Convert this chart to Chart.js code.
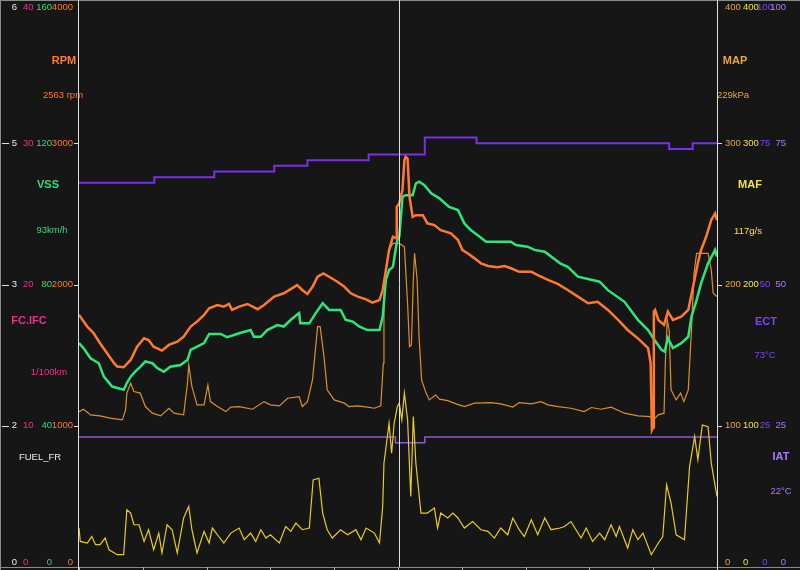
<!DOCTYPE html>
<html>
<head>
<meta charset="utf-8">
<script src="https://cdn.jsdelivr.net/npm/chart.js@4/dist/chart.umd.min.js"></script>
<style>
  html, body { margin: 0; padding: 0; background: #161616; }
  canvas { display: block; }
</style>
</head>
<body>
<canvas id="logChart" width="800" height="570"></canvas>
<script>
// time in seconds (0..100)
const rpm = [[0,1785],[1.3,1702],[2.3,1655],[3.3,1584],[4.4,1513],[5.5,1443],[6,1419],[7,1414],[8.1,1466],[9.1,1560],[10.2,1619],[10.9,1607],[11.7,1560],[13,1532],[14.1,1572],[15.4,1595],[16.4,1631],[17.5,1702],[18.5,1737],[19.6,1784],[20.4,1832],[21.7,1855],[22.7,1843],[23.5,1862],[24,1820],[25.1,1843],[26.4,1862],[28,1825],[29,1855],[30.6,1914],[32.1,1938],[34.2,1996],[35,1961],[35.8,1933],[36.6,1984],[37.4,2055],[38.3,2079],[39.2,2055],[40.5,2020],[41.6,1984],[42.6,1938],[43.7,1914],[45,1895],[46,1871],[47.1,1890],[47.6,1961],[48.1,2102],[48.6,2244],[49.2,2338],[49.7,2327],[49.8,2550],[50.2,2574],[50.7,2668],[51,2880],[51.2,2904],[51.5,2892],[51.8,2621],[52.3,2479],[52.8,2491],[53.9,2491],[54.6,2433],[55.7,2421],[56.7,2385],[58.3,2362],[59.4,2315],[60.1,2244],[60.9,2221],[62,2185],[63,2150],[64.1,2131],[65.6,2122],[66.7,2131],[67.7,2115],[69,2090],[70.9,2090],[71.9,2067],[73.5,2032],[75.1,2003],[76.6,1961],[78.2,1914],[79.8,1867],[81.3,1878],[82.9,1820],[84.5,1749],[86,1678],[87.6,1619],[89.2,1549],[89.6,1443],[89.8,971],[90,990],[90.1,1808],[90.3,1820],[90.8,1749],[91.7,1714],[92.3,1808],[93.1,1749],[94.4,1772],[95.5,1820],[96.2,1973],[97,2150],[97.5,2244],[98.3,2338],[99.1,2456],[99.7,2503],[100,2456]];

const vss = [[0,63.4],[0.7,62],[1.8,59.1],[3.1,57.7],[3.9,53.9],[5.2,51.1],[6.2,50.6],[7,50.2],[7.5,52.1],[8.1,53.9],[8.8,55.3],[9.6,56.7],[10.4,58.2],[11.5,57.7],[12.3,56.3],[13.3,55.3],[14.3,56.7],[15.9,57.2],[17,58.6],[17.5,61.5],[18.5,62.4],[19.6,63.4],[20.4,66],[22.2,66],[23.2,65.1],[24.3,65.7],[25.1,66.2],[26.9,67.1],[27.4,65.2],[28.5,65.2],[29.5,67.1],[31.1,68.5],[32.1,68.1],[33.2,70],[34.5,71.9],[34.7,69],[36.1,69],[37.1,71.9],[38.2,74.7],[39.2,72.8],[41,72.8],[41.8,70],[42.9,69.5],[43.9,68.1],[45.2,67.1],[47.1,67.1],[47.6,70.9],[48.1,81.3],[48.6,84.1],[49.2,85],[49.7,90.7],[49.9,92.6],[50.2,93.5],[50.7,104.8],[51.2,105.3],[52.3,105.3],[52.8,108.6],[53.3,109.1],[54.1,108.2],[55.2,105.8],[56.5,104.4],[58,102],[59.4,101.1],[60.4,97.3],[61.4,95.4],[62.8,93.5],[63.8,92.1],[67.7,92.1],[68.5,91.2],[70.3,90.7],[71.4,89.8],[73,89.3],[75.4,86],[76.6,85],[78.2,82.2],[81.6,80.8],[82.9,78.4],[85.5,75.1],[87.6,70],[89.2,67.1],[90.2,64.3],[91.3,61.5],[91.8,61],[92.3,64.8],[93.1,62],[94.4,63.4],[95.5,65.2],[96,70.9],[96.8,75.6],[97.5,80.3],[98.6,86],[99.7,89.8],[100,87.9]];

const map = [[0,110],[0.7,111.7],[1.8,107.7],[3.3,107],[4.9,105.4],[6.8,104.2],[7.3,111.2],[7.5,123.1],[8.1,130.1],[8.6,124.2],[9.6,123.1],[10.4,113.6],[11.5,108.9],[12.8,107],[14.1,112.4],[14.9,108.9],[16.4,107.7],[17,130.1],[17.2,143.1],[17.7,127.7],[18.5,114.8],[19.6,114.8],[20.2,128.9],[20.6,117.1],[21.7,113.6],[23,110],[23.8,113.2],[25.1,113.6],[27.2,111.7],[29,117.1],[30,114.8],[31.4,114.1],[32.7,119.5],[34.5,120.6],[35,113.6],[35.8,117.1],[36.6,132.5],[37.4,170.2],[37.8,170.2],[38.4,148.9],[38.9,125.4],[40,118.3],[41.6,116],[42.3,113.6],[43.7,114.1],[45.2,113.2],[46.3,112.4],[47.3,114.1],[47.7,144.3],[47.8,191.4],[48.1,210.3],[48.6,224.4],[49.2,229.1],[50.2,229.1],[51,226.7],[51.5,186.7],[51.8,156],[52.1,157.2],[52.4,203.2],[52.6,222.1],[53,203.2],[53.3,163.1],[53.7,132.5],[54.4,123.1],[54.9,118.3],[55.9,121.8],[56.5,118.8],[57.8,117.8],[59.1,115.5],[60.4,113.6],[62,116],[64.6,116.4],[66.1,115.5],[68,113.2],[69,116.4],[70.9,115.5],[72.4,117.1],[73.5,114.8],[75.1,113.6],[77.1,112.4],[79.2,110],[80.3,112.9],[81.8,111.7],[83.4,113.2],[85.5,108.9],[87.6,107],[89.6,106.5],[90,104.2],[90.8,107.7],[91.7,108.9],[91.9,144.3],[92.2,174.9],[92.5,167.8],[92.8,125.4],[93.6,118.3],[94.3,123.1],[94.8,117.1],[95.5,125.4],[96,167.8],[96.4,207.9],[96.8,222.1],[98.6,222.1],[99.1,210.3],[99.4,193.8],[100,191.4]];

const maf = [[0,27.6],[0.2,18.1],[1.3,17],[2,21.6],[2.6,15.8],[3.3,15.8],[4.1,20.5],[4.7,12.2],[6,8.7],[7,8.7],[7.5,40.5],[8.1,38.2],[8.6,29.9],[9.4,29.9],[10.2,18.1],[10.9,26.4],[11.7,12.2],[12.5,24],[13,9.9],[13.8,29.9],[14.6,26.4],[15.4,9.9],[16.4,34.7],[17.2,42.9],[17.7,26.4],[18.5,9.9],[19.6,25.2],[20.4,17],[20.9,27.6],[21.9,21.6],[22.7,17],[23.8,24],[25.1,27.6],[25.9,19.3],[26.9,24],[27.7,18.1],[28.5,26.4],[29.3,20.5],[30,22.8],[31.4,17],[32.4,28.7],[33.2,25.2],[34,31.1],[35,26.4],[36.1,27.6],[36.7,61.7],[37.6,62.9],[38.2,38.2],[38.9,26.4],[39.7,20.5],[41,26.4],[42.1,22.8],[43.4,26.4],[44.2,19.3],[45,27.6],[46.3,24],[47.1,17],[47.6,42.9],[47.8,73.5],[48.6,101.8],[49,80.6],[49.4,101.8],[49.9,113.6],[50.2,116],[50.6,104.2],[51,123.1],[51.5,104.2],[52,49.9],[52.4,106.5],[52.8,73.5],[53.6,38.2],[54.6,38.2],[55.7,41.7],[56.2,27.6],[56.7,38.2],[57.8,34.7],[58.6,38.2],[59.4,34.7],[60.4,27.6],[61.7,32.2],[63,26.4],[64.1,25.2],[65.1,20.5],[66.1,27.6],[67.2,22.8],[68,34.7],[69,26.4],[69.8,21.6],[70.9,33.5],[71.9,22.8],[73,34.7],[74,26.4],[75.4,27.6],[76.1,28.7],[77.1,32.2],[77.9,26.4],[78.7,20.5],[79.5,27.6],[80.5,18.1],[81.6,24],[82.4,19.3],[83.4,29.9],[84.2,21.6],[84.7,28.7],[86,13.4],[86.8,26.4],[87.6,19.3],[88.4,24],[89.7,8.7],[90.8,17],[91.5,21.6],[92.1,58.2],[92.8,45.3],[93.6,22.8],[94.9,19.3],[95.7,71.1],[96.5,92.4],[97,75.9],[97.7,100.6],[98.6,99.4],[99.1,73.5],[100,49.9]];

const ect = [[0,68],[11.8,69],[21.2,70],[30.6,71],[35.8,72],[45.4,73],[54.2,76],[62.3,75],[92.5,74],[96.2,75],[100,75]];
const iat = [[0,23],[49.6,22],[54.2,23],[100,23]];

const cursorT = 50.2;

// axis labels
const whiteTicks = ['0','2','3','5','6'];
const fcTicks = [0,10,20,30,40];
const vssTicks = [0,40,80,120,160];
const rpmTicks = [0,1000,2000,3000,4000];
const mapTicks = [0,100,200,300,400];
const mafTicks = [0,100,200,300,400];
const ectTicks = [0,25,50,75,100];
const iatTicks = [0,25,50,75,100];

const C = {
  bg:'#161616', white:'#ececec', pink:'#ec3090', green:'#36da7c', orange:'#ff7c2e',
  amber:'#eaa440', yellow:'#f2e442', purple:'#8040ff', lav:'#ac7cf4'
};

function txt(ctx, s, x, y, color, font, align){
  ctx.font = font; ctx.fillStyle = color; ctx.textAlign = align || 'center';
  ctx.textBaseline = 'middle'; ctx.fillText(s, x, y);
}

const extras = {
  id: 'extras',
  beforeDraw(chart){
    const c = chart.ctx;
    c.save(); c.fillStyle = C.bg; c.fillRect(0,0,chart.width,chart.height); c.restore();
  },
  afterDraw(chart){
    const c = chart.ctx, a = chart.chartArea, s = chart.scales;
    c.save();
    // frame
    c.strokeStyle = '#8a8a8a'; c.lineWidth = 1;
    c.beginPath();
    c.moveTo(0, 0.5); c.lineTo(800, 0.5);
    c.moveTo(0.5, 0); c.lineTo(0.5, 570);
    c.moveTo(0, a.bottom + 0.5); c.lineTo(800, a.bottom + 0.5);
    c.stroke();
    // x ticks
    c.strokeStyle = '#b0b0b0';
    c.beginPath();
    for (let t = 0; t <= 100; t += 10){
      const x = Math.round(s.x.getPixelForValue(t)) + 0.5;
      c.moveTo(x, a.bottom); c.lineTo(x, 570);
    }
    c.stroke();
    // panel borders + cursor
    c.strokeStyle = '#e0e0e0';
    c.beginPath();
    c.moveTo(a.left - 0.5, 0); c.lineTo(a.left - 0.5, 570);
    c.moveTo(a.right + 0.5, 0); c.lineTo(a.right + 0.5, 570);
    const cx = Math.round(s.x.getPixelForValue(cursorT)) + 0.5;
    c.moveTo(cx, 0); c.lineTo(cx, a.bottom);
    c.stroke();

    // y tick labels
    const f = '9.5px "Liberation Sans", Arial, sans-serif';
    for (let i = 0; i < rpmTicks.length; i++){
      let y = s.yRpm.getPixelForValue(rpmTicks[i]);
      if (i > 0 && i < rpmTicks.length - 1){
        c.strokeStyle = '#e0e0e0';
        c.beginPath();
        c.moveTo(2, Math.round(y)+0.5); c.lineTo(9, Math.round(y)+0.5);
        c.moveTo(a.left - 5, Math.round(y)+0.5); c.lineTo(a.left, Math.round(y)+0.5);
        c.moveTo(a.right, Math.round(y)+0.5); c.lineTo(a.right + 5, Math.round(y)+0.5);
        c.stroke();
      }
      y = Math.min(Math.max(y, 7), 562);
      txt(c, whiteTicks[i], 17, y, C.white, f, 'right');
      txt(c, String(fcTicks[i]), 23, y, C.pink, f, 'left');
      txt(c, String(vssTicks[i]), 52, y, C.green, f, 'right');
      txt(c, String(rpmTicks[i]), 73, y, C.orange, f, 'right');
      const yr = Math.min(Math.max(s.yMap.getPixelForValue(mapTicks[i]), 7), 562);
      txt(c, String(mapTicks[i]), 725, yr, C.amber, f, 'left');
      txt(c, String(mafTicks[i]), 743, yr, C.yellow, f, 'left');
      txt(c, String(ectTicks[i]), 765, yr, C.purple, f, 'center');
      txt(c, String(iatTicks[i]), 786, yr, C.lav, f, 'right');
    }

    // channel names and cursor values
    const b = 'bold 11px "Liberation Sans", Arial, sans-serif';
    txt(c, 'RPM', 64, 61, C.orange, b);
    txt(c, '2563 rpm', 63, 95, C.orange, f);
    txt(c, 'VSS', 48, 185, C.green, b);
    txt(c, '93km/h', 52, 230, C.green, f);
    txt(c, 'FC.IFC', 29, 321, C.pink, b);
    txt(c, '1/100km', 49, 372, C.pink, f);
    txt(c, 'FUEL_FR', 40, 457, C.white, f);
    txt(c, 'MAP', 735, 61, C.amber, b);
    txt(c, '229kPa', 733, 95, C.amber, f);
    txt(c, 'MAF', 750, 185, C.yellow, b);
    txt(c, '117g/s', 748, 231, C.yellow, f);
    txt(c, 'ECT', 766, 322, C.purple, b);
    txt(c, '73°C', 765, 355, C.purple, f);
    txt(c, 'IAT', 781, 457, C.lav, b);
    txt(c, '22°C', 781, 491, C.lav, f);
    c.restore();
  }
};

const line = (data, axis, color, w, stepped) => ({
  data: data, yAxisID: axis, borderColor: color, borderWidth: w,
  pointRadius: 0, tension: 0, fill: false, stepped: !!stepped
});

new Chart(document.getElementById('logChart'), {
  type: 'line',
  data: {
    datasets: [
      line(rpm, 'yRpm', '#ff7a2e', 2.5),
      line(vss, 'yVss', '#2fe57a', 2.5),
      line(ect, 'yEct', '#7b2fe8', 2, true),
      line(map, 'yMap', '#d9902e', 1.2),
      line(maf, 'yMaf', '#e8cc22', 1.2),
      line(iat, 'yIat', '#8e55e0', 1.5, true)
    ]
  },
  options: {
    responsive: false,
    animation: false,
    layout: { padding: { left: 79, right: 83, top: 2, bottom: 3 } },
    plugins: { legend: { display: false }, tooltip: { enabled: false } },
    scales: {
      x: { type: 'linear', min: 0, max: 100, display: false },
      yRpm: { min: 0, max: 4000, display: false },
      yVss: { min: 0, max: 160, display: false },
      yMap: { min: 0, max: 400, display: false },
      yMaf: { min: 0, max: 400, display: false },
      yEct: { min: 0, max: 100, display: false },
      yIat: { min: 0, max: 100, display: false }
    }
  },
  plugins: [extras]
});
</script>
</body>
</html>
